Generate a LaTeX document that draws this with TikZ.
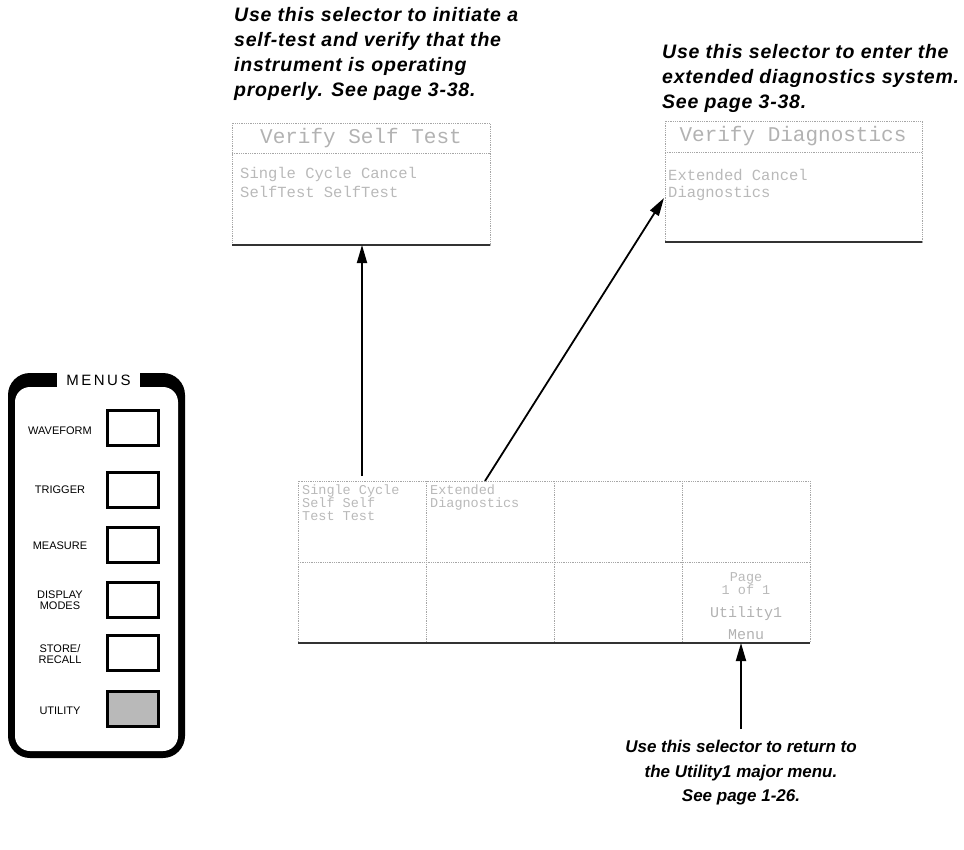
\documentclass[tikz,border=0pt]{standalone}
\usepackage{fontspec}
\setmainfont{Liberation Sans}
\newfontfamily\capfont[LetterSpace=4.0]{Liberation Sans}
\newfontfamily\dotfont{Liberation Mono}
\usetikzlibrary{arrows.meta}
\tikzset{
  caption/.style={inner sep=0pt, font=\capfont\fontsize{19.5}{25}\selectfont\bfseries\itshape},
  caplow/.style={inner sep=0pt, font=\fontsize{17}{24.5}\selectfont\bfseries\itshape},
  popbox/.style={draw=gray!70, densely dotted, line width=0.8pt},
  dottxt/.style={inner sep=0pt, text=gray!60, font=\dotfont\fontsize{21}{24}\selectfont},
  dotsmall/.style={inner sep=0pt, text=gray!55, font=\dotfont\fontsize{15.5}{17}\selectfont},
  dotcell/.style={inner sep=0pt, text=gray!55, font=\dotfont\fontsize{13.5}{13}\selectfont},
  pointer/.style={line width=1.8pt, -{Triangle[length=18pt,width=10pt]}},
  btn/.style={draw=black, line width=2.6pt, minimum width=51pt, minimum height=35pt, inner sep=0pt},
  btnlabel/.style={inner sep=0pt, align=center, font=\fontsize{11}{11}\selectfont},
  gridline/.style={draw=gray!70, densely dotted, line width=0.8pt},
}
\begin{document}
\begin{tikzpicture}[x=1pt,y=-1pt]
\useasboundingbox (0,0) rectangle (964,849);

% ---------- captions ----------
\node[caption, anchor=north west, align=left] (cap1) at (234,7)
  {Use this selector to initiate a\\self-test and verify that the\\instrument is operating\\properly. See page 3-38.};
\node[caption, anchor=north west, align=left] (cap2) at (662,44)
  {Use this selector to enter the\\extended diagnostics system.\\See page 3-38.};
\node[caplow, anchor=north, align=center] (cap3) at (741,740)
  {Use this selector to return to\\the Utility1 major menu.\\See page 1-26.};

% ---------- Verify Self Test box ----------
\draw[popbox] (232,123) rectangle (490,245);
\draw[popbox] (232,153) -- (490,153);
\draw[line width=1.2pt, gray!40!black] (232,245) -- (490,245);
\node[dottxt] (b1title) at (361,138) {Verify Self Test};
\node[dotsmall, anchor=west] (b1l1) at (240,174) {Single  Cycle  Cancel};
\node[dotsmall, anchor=west] (b1l2) at (240,192) {SelfTest SelfTest};
\coordinate (box1) at (362,245);

% ---------- Verify Diagnostics box ----------
\draw[popbox] (665,121) rectangle (922,242);
\draw[popbox] (665,152) -- (922,152);
\draw[line width=1.2pt, gray!40!black] (665,242) -- (922,242);
\node[dottxt] (b2title) at (793,136) {Verify Diagnostics};
\node[dotsmall, anchor=west] (b2l1) at (668,175) {Extended   Cancel};
\node[dotsmall, anchor=west] (b2l2) at (668,193) {Diagnostics};
\coordinate (box2) at (664,198);

% ---------- selector grid ----------
\draw[gridline] (298,481) rectangle (810,643);
\draw[gridline] (298,562) -- (810,562);
\draw[gridline] (426,481) -- (426,643);
\draw[gridline] (554,481) -- (554,643);
\draw[gridline] (682,481) -- (682,643);
\draw[line width=1.2pt, gray!40!black] (298,643) -- (810,643);
\node[dotcell, anchor=north west, align=left] (c1) at (302,485) {Single  Cycle\\Self    Self\\Test    Test};
\node[dotcell, anchor=north west, align=left] (c2) at (430,485) {Extended\\Diagnostics};
\node[dotcell, align=center] (c8a) at (746,584) {Page\\1 of 1};
\node[dottxt, font=\dotfont\fontsize{15}{22}\selectfont, align=center] (c8) at (746,623) {Utility1\\Menu};
\coordinate (cell2) at (485,481);
\coordinate (cell8) at (741,643);

% ---------- pointers ----------
\coordinate (p1) at (362,476);
\coordinate (p3) at (741,729);
\draw[pointer] (p1) -- (box1);
\draw[pointer] (cell2) -- (box2);
\draw[pointer] (p3) -- (cell8);

% ---------- MENUS panel ----------
\fill[black, rounded corners=22pt] (8,373) rectangle (185,758);
\fill[white, rounded corners=15pt] (15,387) rectangle (178,751);
\fill[white] (57,371) rectangle (140,388);
\node[inner sep=0pt, font=\fontsize{15}{15}\selectfont] (menus) at (98.5,380) {M\,E\,N\,U\,S};

\node[btn] (bw) at (133,428) {};
\node[btn] (bt) at (133,490) {};
\node[btn] (bm) at (133,545) {};
\node[btn] (bd) at (133,600) {};
\node[btn] (bs) at (133,653) {};
\node[btn, fill=gray!55] (bu) at (133,709) {};

\node[btnlabel] (lw) at (60,431) {WAVEFORM};
\node[btnlabel] (lt) at (60,490) {TRIGGER};
\node[btnlabel] (lm) at (60,546) {MEASURE};
\node[btnlabel] (ld) at (60,600) {DISPLAY\\MODES};
\node[btnlabel] (ls) at (60,654) {STORE/\\RECALL};
\node[btnlabel] (lu) at (60,711) {UTILITY};
\end{tikzpicture}
\end{document}
